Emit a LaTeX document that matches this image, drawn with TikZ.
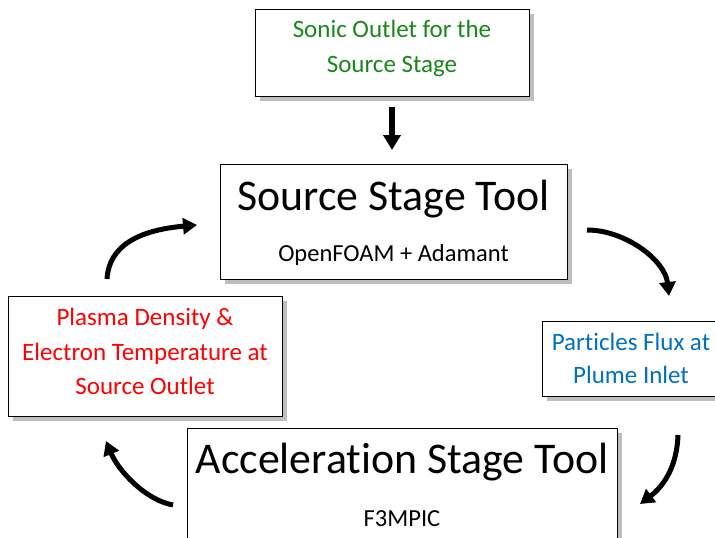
\documentclass[tikz,border=0pt]{standalone}
\usepackage{fontspec}
\setmainfont{Carlito}[Ligatures=NoCommon]
\usetikzlibrary{arrows.meta,shadows}
\definecolor{tgreen}{RGB}{25,135,25}
\definecolor{tblue}{RGB}{0,112,192}
\definecolor{tred}{RGB}{255,0,0}
\definecolor{shadowgray}{RGB}{190,190,190}
\tikzset{
  box/.style={draw=black, line width=0.9pt, fill=white, inner sep=0pt, outer sep=0pt,
    drop shadow={shadow xshift=5pt, shadow yshift=-5pt, fill=shadowgray, opacity=1}},
  txt/.style={anchor=base, inner sep=0pt, outer sep=0pt, font=\fontsize{25}{34}\selectfont},
  bigtxt/.style={anchor=base, inner sep=0pt, outer sep=0pt, font=\fontsize{43.8}{52}\selectfont},
  subtxt/.style={anchor=base, inner sep=0pt, outer sep=0pt, font=\fontsize{24.5}{30}\selectfont},
  flow/.style={line width=5pt, -{Triangle[length=14pt,width=16pt]}},
  downflow/.style={line width=6pt, -{Triangle[length=15pt,width=17pt]}}
}
\begin{document}
\begin{tikzpicture}[x=1pt,y=-1pt]
\useasboundingbox (0,0) rectangle (715,538);
\path[clip] (0,0) rectangle (715,538);

% boxes
\node[box, minimum width=274pt, minimum height=87pt] (sonic) at (392,52.5) {};
\node[box, minimum width=347pt, minimum height=115pt] (source) at (393.5,221.5) {};
\node[box, minimum width=274pt, minimum height=120pt] (plasma) at (145,356) {};
\node[box, minimum width=179pt, minimum height=75pt] (particles) at (631.5,358.5) {};
\node[box, minimum width=430pt, minimum height=142pt] (accel) at (402,499) {};

% texts
\node[txt, text=tgreen] (sonic1) at (392,37) {Sonic Outlet for the};
\node[txt, text=tgreen] (sonic2) at (392,72) {Source Stage};
\node[bigtxt] (sourcet) at (393.5,210) {Source Stage Tool};
\node[subtxt] (sources) at (393.5,261) {OpenFOAM + Adamant};
\node[txt, text=tred] (plasma1) at (145,325) {Plasma Density \&};
\node[txt, text=tred] (plasma2) at (145,360) {Electron Temperature at};
\node[txt, text=tred] (plasma3) at (145,394) {Source Outlet};
\node[txt, text=tblue] (part1) at (631,350) {Particles Flux at};
\node[txt, text=tblue] (part2) at (631,383) {Plume Inlet};
\node[bigtxt] (accelt) at (402,473) {Acceleration Stage Tool};
\node[subtxt] (accels) at (402,526) {F3MPIC};

% arrow end points
\coordinate (d0) at (392,107);
\coordinate (d1) at (392,150);
\coordinate (a1s) at (107,279);
\coordinate (a1e) at (197,225);
\coordinate (a2s) at (587,230);
\coordinate (a2e) at (669,296);
\coordinate (a3s) at (678,435);
\coordinate (a3e) at (640,504);
\coordinate (a4s) at (173,505);
\coordinate (a4e) at (106,441);

\draw[downflow] (d0) -- (d1);
\draw[flow] (a1s) .. controls (109,245) and (140,230) .. (a1e);
\draw[flow] (a2s) .. controls (625,230) and (665,260) .. (a2e);
\draw[flow] (a3s) .. controls (677,465) and (665,485) .. (a3e);
\draw[flow] (a4s) .. controls (145,500) and (118,470) .. (a4e);
\end{tikzpicture}
\end{document}
